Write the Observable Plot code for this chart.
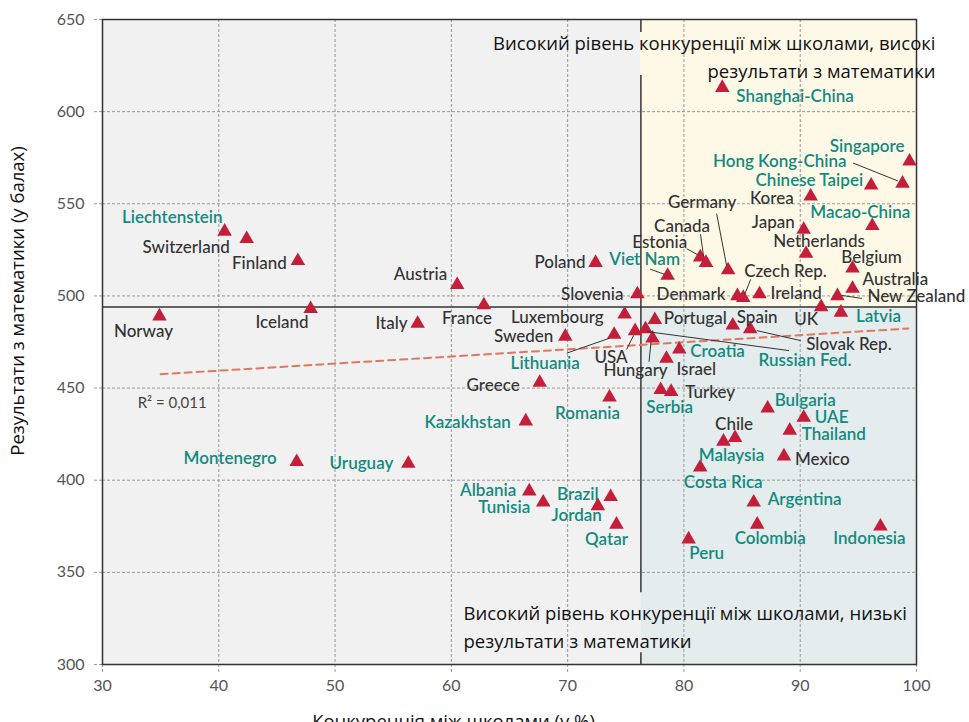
<!DOCTYPE html>
<html><head><meta charset="utf-8">
<script src="https://cdn.jsdelivr.net/npm/d3@7"></script>
<script src="https://cdn.jsdelivr.net/npm/@observablehq/plot@0.6"></script>
<style>body{margin:0;background:#fff} svg{display:block}</style>
</head><body><div id="chart"></div>
<script>
// ---- data ----
const countries = ["Norway","Liechtenstein","Switzerland","Finland","Iceland","Austria","Italy","France","Montenegro","Uruguay",
  "Poland","Viet Nam","Slovenia","Estonia","Canada","Germany","Shanghai-China","Singapore","Hong Kong-China","Chinese Taipei",
  "Korea","Japan","Macao-China","Netherlands","Belgium","Australia","New Zealand","Czech Rep.","Denmark","Ireland",
  "UK","Latvia","Luxembourg","Portugal","Sweden","Lithuania","USA","Russian Fed.","Hungary","Croatia",
  "Israel","Spain","Slovak Rep.","Greece","Turkey","Serbia","Romania","Kazakhstan","Bulgaria","UAE",
  "Thailand","Chile","Malaysia","Mexico","Costa Rica","Albania","Brazil","Tunisia","Jordan","Qatar",
  "Argentina","Colombia","Peru","Indonesia"];
const competition = [34.9,40.5,42.4,46.8,47.9,60.5,57.1,62.8,46.7,56.3,
  72.4,78.6,76.0,81.4,81.9,83.8,83.3,99.4,98.8,96.1,
  90.9,90.3,96.2,90.5,94.5,94.5,93.2,85.1,84.6,86.5,
  91.8,93.5,74.9,77.5,69.8,74.0,75.8,76.7,77.3,79.6,
  78.5,84.2,85.7,67.6,78.9,78.0,73.6,66.4,87.2,90.3,
  89.1,84.4,83.4,88.6,81.4,66.7,73.7,67.9,72.6,74.2,
  86.0,86.3,80.4,96.9];
const mathScore = [489,535,531,519,493,506,485,495,410,409,
  518,511,501,521,518,514,613,573,561,560,
  554,536,538,523,515,504,500,499,500,501,
  494,491,490,487,478,479,481,482,477,471,
  466,484,482,453,448,449,445,432,439,434,
  427,423,421,413,407,394,391,388,386,376,
  388,376,368,375];
const partners = ["Liechtenstein","Montenegro","Uruguay","Viet Nam","Shanghai-China","Singapore","Hong Kong-China","Chinese Taipei",
  "Macao-China","Latvia","Lithuania","Russian Fed.","Croatia","Serbia","Romania","Kazakhstan","Bulgaria","UAE","Thailand",
  "Malaysia","Costa Rica","Albania","Brazil","Tunisia","Jordan","Qatar","Argentina","Colombia","Peru","Indonesia"];
const xTicks = [30,40,50,60,70,80,90,100];
const yTicks = [300,350,400,450,500,550,600,650];
const oecdCompetition = 76.3;
const oecdMath = 494;
const trendX = [35, 99.3];
const trendY = [457.5, 482.3];
const r2Label = "R² = 0,011";
const xLabel = "Конкуренція між школами (у %)";
const yLabel = "Результати з математики (у балах)";
const topNote = ["Високий рівень конкуренції між школами, високі", "результати з математики"];
const bottomNote = ["Високий рівень конкуренції між школами, низькі", "результати з математики"];

// ---- label layout (anchor, dx, dy in px) ----
const labelLayout = {
  "Norway":["middle",-16,15],"Liechtenstein":["end",-2,-14],"Switzerland":["end",-17,9],"Finland":["end",-11,3],
  "Iceland":["end",-2,14],"Austria":["end",-10,-10],"Italy":["end",-10,0],"France":["middle",-17,13],
  "Montenegro":["end",-20,-3],"Uruguay":["end",-15,0],"Poland":["end",-10,0],"Viet Nam":["middle",-23,-16],
  "Slovenia":["end",-14,0],"Estonia":["end",-13,-15],"Canada":["middle",-24,-36],"Germany":["middle",-26,-68],
  "Shanghai-China":["start",14,9],"Singapore":["end",-5,-15],"Hong Kong-China":["end",-56,-22],"Chinese Taipei":["end",-8,-5],
  "Korea":["end",-17,2],"Japan":["end",-9,-7],"Macao-China":["middle",-12,-13],"Netherlands":["middle",13,-12],
  "Belgium":["middle",19,-11],"Australia":["start",10,-9],"New Zealand":["start",30,1],"Czech Rep.":["start",1,-26],
  "Denmark":["end",-12,-1],"Ireland":["start",11,-1],"UK":["middle",-15,13],"Latvia":["start",15,4],
  "Luxembourg":["end",-21,3],"Portugal":["start",9,-1],"Sweden":["end",-12,0],"Lithuania":["middle",-69,29],
  "USA":["middle",-24,27],"Russian Fed.":["start",113,31],"Hungary":["middle",-17,32],"Croatia":["start",11,2],
  "Israel":["start",10,11],"Spain":["start",4,-8],"Slovak Rep.":["start",56,15],"Greece":["end",-20,3],
  "Turkey":["start",14,1],"Serbia":["middle",9,18],"Romania":["middle",-22,16],"Kazakhstan":["end",-15,1],
  "Bulgaria":["start",7,-8],"UAE":["start",11,0],"Thailand":["start",12,4],"Chile":["middle",-1,-13],
  "Malaysia":["middle",8,14],"Mexico":["start",11,3],"Costa Rica":["middle",23,15],"Albania":["end",-13,-1],
  "Brazil":["end",-12,-2],"Tunisia":["end",-13,5],"Jordan":["end",4,10],"Qatar":["middle",-10,15],
  "Argentina":["start",14,-3],"Colombia":["middle",13,14],"Peru":["middle",18,14],"Indonesia":["middle",-11,12]
};
// leader lines: [country, from dx, from dy, to dx, to dy] relative to the point
const leaders = [
  ["Lithuania",-47,19,-4,4],["USA",-8,19,-1,5],["Hungary",-3,24,-1,4],["Russian Fed.",144,22,2,3],
  ["Slovak Rep.",51,12,7,2],["Hong Kong-China",-49,-20,-4,-2],["Germany",-11,-56,-1,-4],["Canada",-5,-28,-2,-6],
  ["Estonia",-13,-8,-2,-2],["Viet Nam",-17,-6,-3,-1],["Czech Rep.",8,-18,2,-3],["New Zealand",5,0,25,3]
];

const rows = countries.map((c, i) => ({country: c, x: competition[i], y: mathScore[i], partner: partners.includes(c)}));

const labelFont = "Lato, 'Open Sans', sans-serif";
const noteFont = "'Open Sans', 'Noto Sans', sans-serif";

function leaderMark(index, scales) {
  const g = d3.create("svg:g").attr("stroke", "#333").attr("stroke-width", 1);
  for (const [name, a, b, c, d] of leaders) {
    const r = rows.find(r => r.country === name);
    const px = scales.x(r.x), py = scales.y(r.y);
    g.append("line").attr("x1", px + a).attr("y1", py + b).attr("x2", px + c).attr("y2", py + d);
  }
  return g.node();
}

const labelMarks = rows.map(r => {
  const [anchor, dx, dy] = labelLayout[r.country];
  return Plot.text([r], {x: "x", y: "y", text: "country", textAnchor: anchor, dx, dy, lineAnchor: "middle",
    fill: r.partner ? "#138a80" : "#333", fontWeight: r.partner ? 600 : 500, fontSize: 17, fontFamily: labelFont});
});

const chart = Plot.plot({
  width: 969, height: 722,
  marginLeft: 102, marginRight: 53, marginTop: 19, marginBottom: 58,
  x: {domain: [30, 100]},
  y: {domain: [300, 650]},
  style: {fontFamily: labelFont, background: "#fff", overflow: "visible"},
  marks: [
    Plot.rect([{x1: 30, x2: oecdCompetition, y1: 300, y2: 650}], {x1: "x1", x2: "x2", y1: "y1", y2: "y2", fill: "#f1f1f1"}),
    Plot.rect([{x1: oecdCompetition, x2: 100, y1: oecdMath, y2: 650}], {x1: "x1", x2: "x2", y1: "y1", y2: "y2", fill: "#fef9e7"}),
    Plot.rect([{x1: oecdCompetition, x2: 100, y1: 300, y2: oecdMath}], {x1: "x1", x2: "x2", y1: "y1", y2: "y2", fill: "#e4eced"}),
    Plot.gridX(xTicks.slice(1, -1), {stroke: "#999", strokeOpacity: 1, strokeDasharray: "3,2"}),
    Plot.gridY(yTicks.slice(1, -1), {stroke: "#999", strokeOpacity: 1, strokeDasharray: "3,2"}),
    Plot.axisX(xTicks, {tickSize: 10, tickPadding: 5, stroke: "#999", strokeDasharray: "3,2", fill: "#555", fontSize: 16, fontFamily: labelFont, label: null}),
    Plot.axisY(yTicks, {tickSize: 10, tickPadding: 8, stroke: "#999", strokeDasharray: "3,2", fill: "#555", fontSize: 16, fontFamily: labelFont, label: null}),
    Plot.ruleY([oecdMath], {x1: 30, x2: 100, stroke: "#333", strokeWidth: 1.5}),
    Plot.ruleX([
      {x: oecdCompetition, y1: 300, y2: 306.4},
      {x: oecdCompetition, y1: 338.9, y2: 619.6},
      {x: oecdCompetition, y1: 643, y2: 650}
    ], {x: "x", y1: "y1", y2: "y2", stroke: "#333", strokeWidth: 1.5}),
    Plot.line(trendX.map((x, i) => ({x, y: trendY[i]})), {x: "x", y: "y", stroke: "#e0785f", strokeWidth: 2, strokeDasharray: "7,5"}),
    Plot.frame({stroke: "#333", strokeWidth: 1.5}),
    Plot.dot(rows, {x: "x", y: "y", symbol: "triangle", r: 5.4, fill: "#c41e3a", stroke: "none"}),
    leaderMark,
    ...labelMarks,
    Plot.text([r2Label], {x: () => trendX[0], y: () => trendY[0], text: d => d, dx: -23, dy: 29, textAnchor: "start", lineAnchor: "middle", fill: "#444", fontSize: 15, fontFamily: labelFont}),
    Plot.text([topNote[0]], {frameAnchor: "top-right", textAnchor: "end", lineAnchor: "bottom", dx: 19, dy: 30, text: d => d, fill: "#111", fontSize: 18.5, fontFamily: noteFont}),
    Plot.text([topNote[1]], {frameAnchor: "top-right", textAnchor: "end", lineAnchor: "bottom", dx: 19, dy: 58, text: d => d, fill: "#111", fontSize: 18.5, fontFamily: noteFont}),
    Plot.text([bottomNote[0]], {frameAnchor: "bottom-left", textAnchor: "start", lineAnchor: "bottom", dx: 361, dy: -45, text: d => d, fill: "#111", fontSize: 18.5, fontFamily: noteFont}),
    Plot.text([bottomNote[1]], {frameAnchor: "bottom-left", textAnchor: "start", lineAnchor: "bottom", dx: 361, dy: -17, text: d => d, fill: "#111", fontSize: 18.5, fontFamily: noteFont}),
    Plot.text([xLabel], {frameAnchor: "bottom", textAnchor: "middle", lineAnchor: "bottom", dx: -56, dy: 63, text: d => d, fill: "#111", fontSize: 18.5, fontFamily: noteFont}),
    Plot.text([yLabel], {frameAnchor: "left", textAnchor: "middle", lineAnchor: "bottom", rotate: -90, dx: -79, dy: -41, text: d => d, fill: "#111", fontSize: 18.5, fontFamily: noteFont})
  ]
});
document.getElementById("chart").appendChild(chart);
</script>
</body></html>
